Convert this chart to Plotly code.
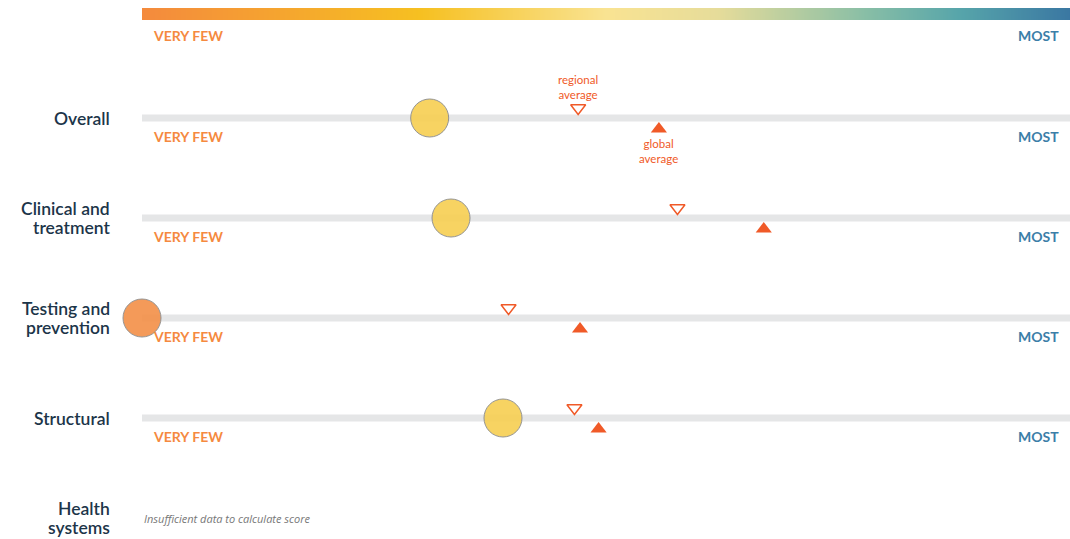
import numpy as np
import plotly.graph_objects as go

# ---- data ----
categories = [["Overall"], ["Clinical and", "treatment"], ["Testing and", "prevention"],
              ["Structural"], ["Health", "systems"]]
scores = [31.0, 33.3, 0.0, 38.9]
regional_avg = [47.0, 57.7, 39.5, 46.6]
global_avg = [55.7, 67.0, 47.2, 49.2]
circle_colors = ["#f7d055", "#f7d055", "#f4924b", "#f7d055"]
low_label = "VERY FEW"
high_label = "MOST"
missing_note = "Insufficient data to calculate score"

W, H = 1070, 539
ORANGE = "#f58a3f"
BLUE = "#3b7ea8"
RED = "#f05a28"
NAVY = "#1c3549"
FONT = "Lato"

rows = [1, 2, 3, 4]
fig = go.Figure()

# gradient scale bar at top
gx = np.linspace(0, 100, 300)
fig.add_trace(go.Heatmap(
    x=gx, y=[-0.07, -0.01], z=[gx, gx],
    colorscale=[[0, "#f48a3d"], [0.3, "#f6c021"], [0.5, "#f9e392"],
                [0.62, "#e6dc9a"], [0.78, "#88bea6"], [0.88, "#57a5aa"], [1, "#3a77a2"]],
    showscale=False, hoverinfo="skip", zsmooth="best"))

# tracks
for r in rows:
    fig.add_trace(go.Scatter(x=[0, 100], y=[r, r], mode="lines",
                             line=dict(color="#e5e6e7", width=7),
                             hoverinfo="skip", showlegend=False))

# score circles
fig.add_trace(go.Scatter(x=scores, y=rows, mode="markers", cliponaxis=False,
                         marker=dict(size=38, color=circle_colors, opacity=0.92,
                                     line=dict(color="#8c8c8c", width=1)),
                         hoverinfo="skip", showlegend=False))
# regional averages
fig.add_trace(go.Scatter(x=regional_avg, y=[r - 0.1 for r in rows], mode="markers",
                         cliponaxis=False,
                         marker=dict(symbol="triangle-down-open", size=13,
                                     color=RED, line=dict(color=RED, width=1.5)),
                         hoverinfo="skip", showlegend=False))
# global averages
fig.add_trace(go.Scatter(x=global_avg, y=[r + 0.11 for r in rows], mode="markers",
                         cliponaxis=False,
                         marker=dict(symbol="triangle-up", size=14, color=RED,
                                     line=dict(width=0)),
                         hoverinfo="skip", showlegend=False))

ann = []
# scale labels
for r in [-0.01] + rows:
    yy = r + 0.18
    ann.append(dict(x=1.0, y=yy, xref="x", yref="y", text=f"<b>{low_label}</b>", showarrow=False,
                    xanchor="left", yanchor="middle", font=dict(family=FONT, size=14, color=ORANGE)))
    ann.append(dict(x=99.0, y=yy, xref="x", yref="y", text=f"<b>{high_label}</b>", showarrow=False,
                    xanchor="right", yanchor="middle", font=dict(family=FONT, size=14, color=BLUE)))
# row labels
for i, lines in enumerate(categories):
    n = len(lines)
    for j, line in enumerate(lines):
        yy = i + 1 + (j - (n - 1) / 2) * 0.19
        ann.append(dict(x=112 / W, y=yy, xref="paper", yref="y", text=line, showarrow=False,
                        xanchor="right", yanchor="middle", align="right",
                        font=dict(family=FONT, size=17.5, color=NAVY, weight=600)))
# average legends on first row
ann.append(dict(x=regional_avg[0], y=0.85, xref="x", yref="y", text="regional<br>average",
                showarrow=False, yanchor="bottom", font=dict(family=FONT, size=11.5, color=RED)))
ann.append(dict(x=global_avg[0], y=1.17, xref="x", yref="y", text="global<br>average",
                showarrow=False, yanchor="top", font=dict(family=FONT, size=11.5, color=RED)))
# missing data note
ann.append(dict(x=0, y=5, xref="x", yref="y", text=f"<i>{missing_note}</i>", showarrow=False,
                xanchor="left", yanchor="middle",
                font=dict(family="Open Sans", size=11, color="#777777")))

fig.update_layout(
    width=W, height=H, margin=dict(l=0, r=0, t=0, b=0),
    paper_bgcolor="white", plot_bgcolor="white",
    xaxis=dict(domain=[142 / W, 1], range=[0, 100], visible=False, fixedrange=True),
    yaxis=dict(range=[5.21, -0.18], visible=False, fixedrange=True),
    annotations=ann, showlegend=False, hovermode=False,
)
fig.write_html("out.html", config={"displayModeBar": False},
               post_script="document.body.style.margin='0px';document.body.style.overflow='hidden';")
